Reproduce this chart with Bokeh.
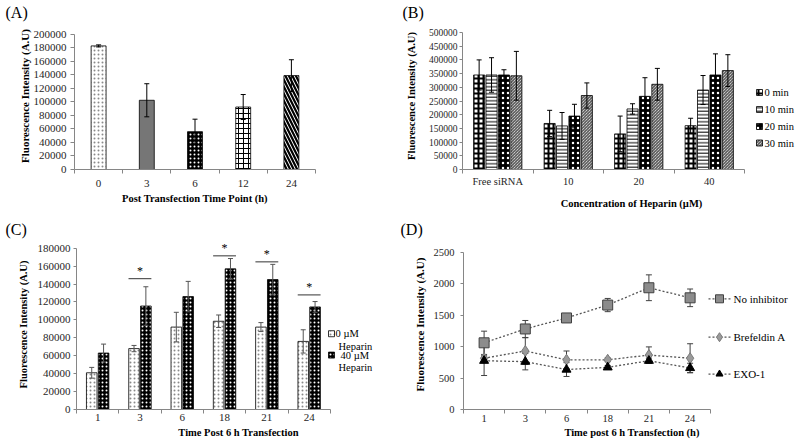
from bokeh.plotting import figure
from bokeh.models import Range1d, FixedTicker, NumeralTickFormatter, Title, ColumnDataSource
from bokeh.layouts import column, row
from bokeh.core.properties import value
from bokeh.embed import file_html
from bokeh.resources import INLINE

FONT = "Liberation Serif"
AXIS_COLOR = "#868686"
TICK_TEXT = "#262626"
Y_TITLE = "Fluorescence Intensity (A.U)"

# ---------------- data ----------------
# (A)
a_cats = ["0", "3", "6", "12", "24"]
a_vals = [183000, 102500, 56000, 92500, 139000]
a_errs = [1500, 24500, 18500, 18500, 23500]
a_yticks = [0, 20000, 40000, 60000, 80000, 100000, 120000, 140000, 160000, 180000, 200000]

# (B)
b_cats = ["Free siRNA", "10", "20", "40"]
b_series = ["0 min", "10 min", "20 min", "30 min"]
b_0min = [345000, 168000, 130000, 160000]
b_0min_err = [55000, 48000, 65000, 27000]
b_10min = [345000, 159000, 221000, 290000]
b_10min_err = [63000, 49000, 19000, 53000]
b_20min = [345000, 195000, 267000, 345000]
b_20min_err = [19000, 43000, 68000, 77000]
b_30min = [342000, 270000, 311000, 361000]
b_30min_err = [89000, 46000, 58000, 58000]
b_yticks = [0, 50000, 100000, 150000, 200000, 250000, 300000, 350000, 400000, 450000, 500000]

# (C)
c_cats = ["1", "3", "6", "18", "21", "24"]
c_series = ["0 µM Heparin", "40 µM Heparin"]
c_0uM = [41000, 68000, 92000, 98500, 92000, 76000]
c_0uM_err = [6000, 3500, 16500, 7000, 5000, 13000]
c_40uM = [63000, 115500, 126000, 157000, 145000, 114500]
c_40uM_err = [10000, 21500, 17000, 11500, 17000, 6000]
c_sig_cats = ["3", "18", "21", "24"]
c_sig_y = [146000, 171500, 164800, 127900]
c_yticks = [0, 20000, 40000, 60000, 80000, 100000, 120000, 140000, 160000, 180000]

# (D)
d_cats = ["1", "3", "6", "18", "21", "24"]
d_series = ["No inhibitor", "Brefeldin A", "EXO-1"]
d_none = [1060, 1280, 1455, 1660, 1935, 1775]
d_none_err = [185, 135, 15, 105, 205, 140]
d_bref = [815, 930, 790, 790, 865, 815]
d_bref_err = [40, 210, 140, 30, 130, 230]
d_exo = [775, 760, 635, 670, 775, 660]
d_exo_err = [235, 130, 110, 30, 40, 75]
d_yticks = [0, 500, 1000, 1500, 2000, 2500]


# ---------------- helpers ----------------
def make_panel(W, H, left, top_tick, frame_top, bottom, right, cw, cats, ymax, yticks, letter, letter_x,
               xlabel, ylabel, ytick_size, xtick_size, xlabel_size, ylabel_size,
               ytick_out, ytick_standoff, ylabel_standoff, xtick_standoff, xlabel_standoff):
    n = len(cats)
    span = (right - left) / cw
    yend = ymax * (bottom - frame_top) / (bottom - top_tick)
    p = figure(width=W, height=H, output_backend="svg", toolbar_location=None,
               x_range=Range1d(0.5, 0.5 + span), y_range=Range1d(0, yend),
               min_border_left=left, min_border_right=W - right,
               min_border_top=frame_top, min_border_bottom=H - bottom)
    p.outline_line_color = None
    p.grid.visible = False
    p.background_fill_color = "white"
    p.border_fill_color = "white"

    p.title = Title(text=letter, align="left", vertical_align="top", standoff=0,
                    offset=letter_x - left, text_font=FONT, text_font_size="16px",
                    text_font_style="normal", text_color="black")

    xa = p.xaxis[0]
    xa.ticker = FixedTicker(ticks=[i + 1 for i in range(n)],
                            minor_ticks=[i + 0.5 for i in range(n + 1)])
    xa.bounds = (0.5, n + 0.5)
    xa.major_label_overrides = {i + 1: c for i, c in enumerate(cats)}
    xa.major_tick_out = 0
    xa.major_tick_in = 0
    xa.major_tick_line_color = None
    xa.minor_tick_out = 4
    xa.minor_tick_in = 0
    xa.minor_tick_line_color = AXIS_COLOR
    xa.axis_line_color = AXIS_COLOR
    xa.major_label_text_font = FONT
    xa.major_label_text_font_size = xtick_size
    xa.major_label_text_color = TICK_TEXT
    xa.major_label_standoff = xtick_standoff
    xa.axis_label = xlabel
    xa.axis_label_text_font = FONT
    xa.axis_label_text_font_style = "bold"
    xa.axis_label_text_font_size = xlabel_size
    xa.axis_label_text_color = "black"
    xa.axis_label_standoff = xlabel_standoff

    ya = p.yaxis[0]
    ya.ticker = FixedTicker(ticks=yticks)
    ya.bounds = (0, ymax)
    ya.formatter = NumeralTickFormatter(format="0")
    ya.minor_tick_line_color = None
    ya.major_tick_out = ytick_out
    ya.major_tick_in = 0
    ya.major_tick_line_color = AXIS_COLOR
    ya.axis_line_color = AXIS_COLOR
    ya.major_label_text_font = FONT
    ya.major_label_text_font_size = ytick_size
    ya.major_label_text_color = TICK_TEXT
    ya.major_label_standoff = ytick_standoff
    ya.axis_label = ylabel
    ya.axis_label_text_font = FONT
    ya.axis_label_text_font_style = "bold"
    ya.axis_label_text_font_size = ylabel_size
    ya.axis_label_text_color = "black"
    ya.axis_label_standoff = ylabel_standoff

    def fx(px):
        return 0.5 + (px - left) / cw

    def fy(py):
        return (bottom - py) / (bottom - frame_top) * yend

    return p, fx, fy


def errbars(p, xs, vals, errs, color="black", cap=5, width=1):
    lo = [v - e for v, e in zip(vals, errs)]
    hi = [v + e for v, e in zip(vals, errs)]
    p.segment(x0=xs, y0=lo, x1=xs, y1=hi, line_color=color, line_width=width)
    p.scatter(x=list(xs) + list(xs), y=lo + hi, marker="dash", size=cap,
              line_color=color, line_width=width)


def legend_text(p, x, y, text, size="10.5px"):
    p.text(x=[x], y=[y], text=[text], text_font=value(FONT), text_font_size=value(size),
           text_baseline="middle", text_align="left", text_color="black")


# ---------------- (A) ----------------
pA, axA, ayA = make_panel(400, 220, 74, 34, 22, 170, 315, 48.2, a_cats, 200000, a_yticks, "(A)", 5,
                          "Post Transfection Time Point (h)", Y_TITLE,
                          "11px", "11px", "10.5px", "11px", 4, 4, 0, 6, 3)
a_x = [i + 1 for i in range(len(a_cats))]
srcA = ColumnDataSource(dict(
    x=a_x, top=a_vals,
    fill=["white", "#767676", "black", "white", "white"],
    hatch=["dot", " ", "dot", "cross", "left_diagonal_line"],
    hcol=["#8a8a8a", "#767676", "white", "black", "black"],
    hscale=[4, 4, 4, 5, 7],
    hweight=[0.8, 1, 0.8, 1, 2.2],
))
pA.vbar(x="x", top="top", width=0.31, bottom=0, source=srcA, fill_color="fill",
        line_color="black", line_width=0.8, hatch_pattern="hatch", hatch_color="hcol",
        hatch_scale="hscale", hatch_weight="hweight")
errbars(pA, a_x, a_vals, a_errs, cap=5)

# ---------------- (B) ----------------
pB, axB, ayB = make_panel(400, 220, 62, 32, 22, 169, 400, 70.5, b_cats, 500000, b_yticks, "(B)", 2,
                          "Concentration of Heparin (µM)", Y_TITLE,
                          "9.5px", "10.5px", "10.5px", "10.5px", 3, 2, 9, 2, 8)
b_vals = [b_0min, b_10min, b_20min, b_30min]
b_errs = [b_0min_err, b_10min_err, b_20min_err, b_30min_err]
b_style = [
    dict(fill_color="white", hatch_pattern="cross", hatch_color="black", hatch_scale=5, hatch_weight=2),
    dict(fill_color="white", hatch_pattern="horizontal_line", hatch_color="black", hatch_scale=3.5, hatch_weight=1),
    dict(fill_color="black", hatch_pattern="dot", hatch_color="white", hatch_scale=5, hatch_weight=0.6),
    dict(fill_color="white", hatch_pattern="left_diagonal_line", hatch_color="#333333", hatch_scale=3, hatch_weight=1),
]
pitch, bw = 0.176, 0.157
for k in range(4):
    xs = [i + 1 + (k - 1.5) * pitch for i in range(len(b_cats))]
    pB.vbar(x=xs, top=b_vals[k], width=bw, bottom=0, line_color="black", line_width=0.8, **b_style[k])
for k in range(4):
    xs = [i + 1 + (k - 1.5) * pitch for i in range(len(b_cats))]
    errbars(pB, xs, b_vals[k], b_errs[k], cap=5)
b_leg_y = [92, 109, 126, 142.5]
for k in range(4):
    pB.scatter(x=[axB(359)], y=[ayB(b_leg_y[k])], marker="square", size=6, line_color="black",
               line_width=0.8, **b_style[k])
    legend_text(pB, axB(364), ayB(b_leg_y[k]), b_series[k], "10.5px")

# ---------------- (C) ----------------
pC, axC, ayC = make_panel(400, 226, 76, 23, 14, 189, 400, 42.3, c_cats, 180000, c_yticks, "(C)", 5,
                          "Time Post 6 h Transfection", Y_TITLE,
                          "11px", "11px", "10.5px", "10.5px", 3, 3, 6, 0, 3)
c_x = [i + 1 for i in range(len(c_cats))]
c_style = [
    dict(fill_color="white", hatch_pattern="dot", hatch_color="#8a8a8a", hatch_scale=4, hatch_weight=0.8),
    dict(fill_color="black", hatch_pattern="dot", hatch_color="white", hatch_scale=4, hatch_weight=0.6),
]
c_vals = [c_0uM, c_40uM]
c_errs = [c_0uM_err, c_40uM_err]
for k, off in enumerate([-0.14, 0.14]):
    xs = [x + off for x in c_x]
    pC.vbar(x=xs, top=c_vals[k], width=0.25, bottom=0, line_color="black", line_width=0.8, **c_style[k])
for k, off in enumerate([-0.14, 0.14]):
    xs = [x + off for x in c_x]
    errbars(pC, xs, c_vals[k], c_errs[k], color="#555555", cap=5)
sig_x = [c_cats.index(c) + 1 for c in c_sig_cats]
pC.segment(x0=[x - 0.27 for x in sig_x], y0=c_sig_y, x1=[x + 0.27 for x in sig_x], y1=c_sig_y,
           line_color="#333333", line_width=1)
pC.text(x=sig_x, y=c_sig_y, text=["*"] * len(sig_x), text_font=value(FONT),
        text_font_size=value("12px"), text_align="center", text_baseline="bottom",
        y_offset=-1, text_color="black")
c_sq_y = [111, 133]
for k in range(2):
    pC.scatter(x=[axC(331)], y=[ayC(c_sq_y[k])], marker="square", size=6, line_color="black",
               line_width=0.8, **c_style[k])
legend_text(pC, axC(335), ayC(111), "0 µM")
legend_text(pC, axC(338), ayC(124), "Heparin")
legend_text(pC, axC(340), ayC(133), "40 µM")
legend_text(pC, axC(338), ayC(146), "Heparin")

# ---------------- (D) ----------------
pD, axD, ayD = make_panel(400, 226, 63, 28, 15, 189, 400, 41.2, d_cats, 2500, d_yticks, "(D)", 0,
                          "Time post 6 h Transfection (h)", Y_TITLE,
                          "10.5px", "10.5px", "10.5px", "11px", 3, 6, 5, 1, 2)
d_x = [i + 1 for i in range(len(d_cats))]
d_vals = [d_none, d_bref, d_exo]
d_errs = [d_none_err, d_bref_err, d_exo_err]
d_marker = [
    dict(marker="square", size=10, fill_color="#8c8c8c", line_color="#404040", line_width=1),
    dict(marker="diamond", size=11, fill_color="#9a9a9a", line_color="#7a7a7a", line_width=1),
    dict(marker="triangle", size=9, fill_color="black", line_color="black", line_width=1),
]
for k in range(3):
    pD.line(x=d_x, y=d_vals[k], line_color="#555555", line_width=1.3, line_dash="2 2")
for k in range(3):
    errbars(pD, d_x, d_vals[k], d_errs[k], color="#404040", cap=6)
for k in range(3):
    pD.scatter(x=d_x, y=d_vals[k], **d_marker[k])
d_leg_y = [75.7, 115, 152.7]
for k in range(3):
    yy = ayD(d_leg_y[k])
    pD.line(x=[axD(308), axD(330)], y=[yy, yy], line_color="#555555", line_width=1.3, line_dash="2 2")
    mk = dict(d_marker[k])
    mk["size"] = mk["size"] - 2
    pD.scatter(x=[axD(319)], y=[yy], **mk)
    legend_text(pD, axD(333), yy, d_series[k], "11px")

layout = column(row(pA, pB), row(pC, pD))
open("out.html", "w").write(file_html(layout, INLINE))
